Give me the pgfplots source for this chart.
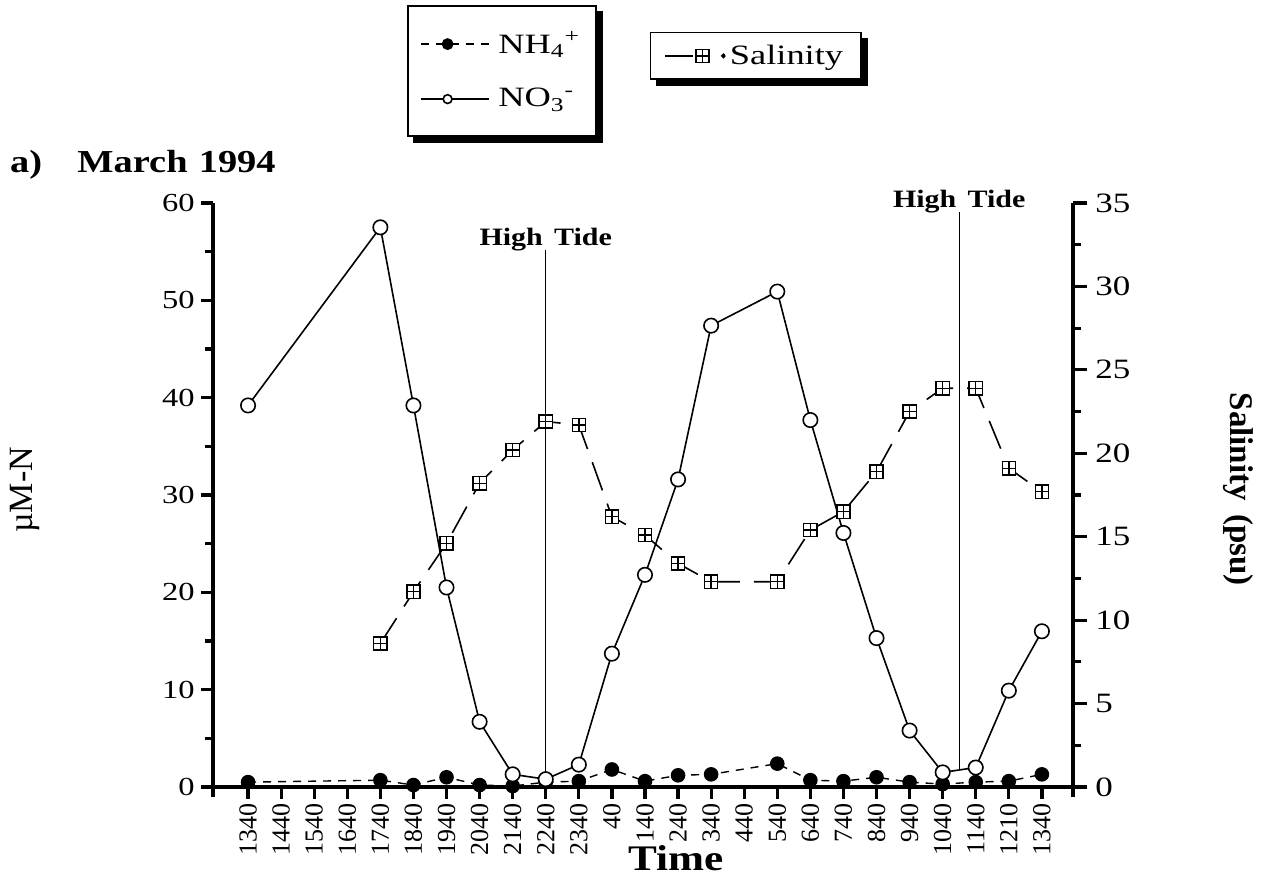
\documentclass[border=0pt]{standalone}
\usepackage{fontspec}
\setmainfont{Liberation Serif}
\newfontfamily\widefont[FakeStretch=1.25]{Liberation Serif}
\newfontfamily\legfont[FakeStretch=1.3]{Liberation Serif}
\newfontfamily\headfont[FakeStretch=1.2]{Liberation Serif}
\usepackage{pgfplots}
\pgfplotsset{compat=1.18}

% square with a cross inside, used for salinity
\pgfdeclareplotmark{boxplus}{%
  \pgfpathrectangle{\pgfqpoint{-\pgfplotmarksize}{-\pgfplotmarksize}}%
    {\pgfqpoint{2\pgfplotmarksize}{2\pgfplotmarksize}}%
  \pgfusepathqfillstroke
  \pgfpathmoveto{\pgfqpoint{-\pgfplotmarksize}{0pt}}%
  \pgfpathlineto{\pgfqpoint{\pgfplotmarksize}{0pt}}%
  \pgfpathmoveto{\pgfqpoint{0pt}{-\pgfplotmarksize}}%
  \pgfpathlineto{\pgfqpoint{0pt}{\pgfplotmarksize}}%
  \pgfusepathqstroke
}

% legend pictures
\pgfplotsset{
  nhleg/.style={legend image code/.code={\draw[mark repeat=2, mark phase=2, ##1, mark size=2.6pt]
     plot coordinates {(0pt,0pt) (13.5pt,0pt) (36.5pt,0pt)};}},
  noleg/.style={legend image code/.code={\draw[mark repeat=2, mark phase=2, ##1, mark size=2.2pt]
     plot coordinates {(0pt,0pt) (13.5pt,0pt) (34pt,0pt)};}},
  salleg/.style={legend image code/.code={%
    \draw[solid, line width=0.8pt] (0pt,0pt) -- (14pt,0pt);
    \draw[##1, solid] plot[only marks] coordinates {(18.5pt,0pt)};
    \fill (29pt,0pt) circle (0.8pt);}},
}

% x index: 0=1340, 1=1440, ..., 24=1340 (next day)
\pgfplotstableread{
x  y
0  0.5
4  0.7
5  0.2
6  1.0
7  0.2
8  0.1
9  0.5
10 0.6
11 1.8
12 0.6
13 1.2
14 1.3
16 2.4
17 0.7
18 0.6
19 1.0
20 0.5
21 0.3
22 0.5
23 0.6
24 1.3
}\nhfour

\pgfplotstableread{
x  y
0  39.2
4  57.5
5  39.2
6  20.5
7  6.7
8  1.3
9  0.8
10 2.3
11 13.7
12 21.8
13 31.6
14 47.4
16 50.9
17 37.7
18 26.1
19 15.3
20 5.8
21 1.5
22 2.0
23 9.9
24 16.0
}\nothree

\pgfplotstableread{
x  y
4  8.6
5  11.7
6  14.6
7  18.2
8  20.2
9  21.9
10 21.7
11 16.2
12 15.1
13 13.4
14 12.3
16 12.3
17 15.4
18 16.5
19 18.9
20 22.5
21 23.9
22 23.9
23 19.1
24 17.7
}\salinity

\begin{document}
\begin{tikzpicture}
\path[use as bounding box] (-106.5pt,-48.5pt) rectangle (528.5pt,393.5pt);

\begin{axis}[
  scale only axis, width=430pt, height=292pt,
  xmin=-1.06, xmax=24.94, ymin=0, ymax=60,
  axis x line*=bottom, axis y line*=left,
  axis line style={line width=1.6pt},
  xtick={0,...,24},
  xticklabels={1340,1440,1540,1640,1740,1840,1940,2040,2140,2240,2340,40,140,240,340,440,540,640,740,840,940,1040,1140,1210,1340},
  x tick label style={rotate=90, anchor=east, font=\fontsize{13}{15}\selectfont, inner sep=2pt},
  ytick={0,10,...,60}, minor ytick={5,15,...,55},
  y tick label style={font=\widefont\fontsize{13}{15}\selectfont, inner sep=3pt},
  /pgf/number format/assume math mode=true,
  tick align=outside,
  major tick length=6pt, minor tick length=4pt,
  every tick/.style={black, line width=1.6pt},
  legend style={name=legA, at={(0.2256,1.339)}, anchor=north west,
    draw=black, line width=0.8pt, fill=white,
    font=\legfont\fontsize{14}{16}\selectfont,
    inner xsep=6pt, inner ysep=11pt, row sep=12pt,
    cells={anchor=west}},
  clip=false,
]
\addplot[black, line width=0.7pt, dash pattern=on 4pt off 3.5pt,
  mark=*, mark size=3.3pt, mark options={solid, fill=black}, nhleg]
  table {\nhfour};
\addlegendentry{NH\textsubscript{4}\textsuperscript{+}}

\addplot[black, line width=0.8pt,
  mark=*, mark size=3.6pt, mark options={solid, fill=white}, noleg]
  table {\nothree};
\addlegendentry{NO\textsubscript{3}\textsuperscript{-}}

% high tide markers
\draw[line width=0.5pt] (axis cs:9,1.3) -- (axis cs:9,55.2);
\node[anchor=base, font=\headfont\bfseries\fontsize{12.5}{14}\selectfont, inner sep=0pt]
  at (axis cs:9,55.6) {High\hspace{0.45em}Tide};
\draw[line width=0.5pt] (axis cs:21.5,1.9) -- (axis cs:21.5,59.1);
\node[anchor=base, font=\headfont\bfseries\fontsize{12.5}{14}\selectfont, inner sep=0pt]
  at (axis cs:21.5,59.5) {High\hspace{0.45em}Tide};

% spines reaching just below the x axis
\draw[line width=1.6pt] (axis description cs:0,0) -- ([yshift=-5pt]axis description cs:0,0);
\draw[line width=1.6pt] (axis description cs:1,0) -- ([yshift=-5pt]axis description cs:1,0);

% titles and axis labels
\node[anchor=west, font=\headfont\bfseries\fontsize{16}{18}\selectfont]
  at (axis description cs:-0.244,1.066) {a)\hspace{1.1em}March\hspace{0.35em}1994};
\node[rotate=90, font=\fontsize{17}{19}\selectfont]
  at (axis description cs:-0.219,0.509) {µM-N};
\node[rotate=-90, font=\bfseries\fontsize{16.5}{19}\selectfont]
  at (axis description cs:1.192,0.51) {Salinity\hspace{0.4em}(psu)};
\node[font=\headfont\bfseries\fontsize{18}{20}\selectfont]
  at (axis description cs:0.538,-0.1216) {Time};
\end{axis}

\begin{axis}[
  scale only axis, width=430pt, height=292pt,
  xmin=-1.06, xmax=24.94, ymin=0, ymax=35,
  axis x line=none, axis y line*=right,
  axis line style={line width=1.6pt},
  ytick={0,5,...,35}, minor ytick={2.5,7.5,...,32.5},
  y tick label style={font=\widefont\fontsize{14}{16}\selectfont, inner sep=4pt},
  /pgf/number format/assume math mode=true,
  tick align=outside,
  major tick length=7pt, minor tick length=4pt,
  every tick/.style={black, line width=1.6pt},
  legend style={name=legB, at={(0.508,1.293)}, anchor=north west,
    draw=black, line width=0.8pt, fill=white,
    font=\legfont\fontsize{14}{16}\selectfont,
    inner xsep=7pt, inner ysep=4pt,
    cells={anchor=west}},
  clip=false,
]
\addplot[black, line width=0.8pt, dash pattern=on 15pt off 7pt,
  mark=boxplus, mark size=3.3pt, mark options={solid, fill=white, line width=0.7pt}, salleg]
  table {\salinity};
\addlegendentry{Salinity}
\end{axis}

% offset shadows of the two legend boxes
\foreach \leg in {legA,legB}{
  \fill ([yshift=-3pt]\leg.north east) rectangle ([xshift=3pt,yshift=-3pt]\leg.south east);
  \fill ([xshift=3pt]\leg.south west) rectangle ([xshift=3pt,yshift=-3pt]\leg.south east);
}
\end{tikzpicture}
\end{document}
